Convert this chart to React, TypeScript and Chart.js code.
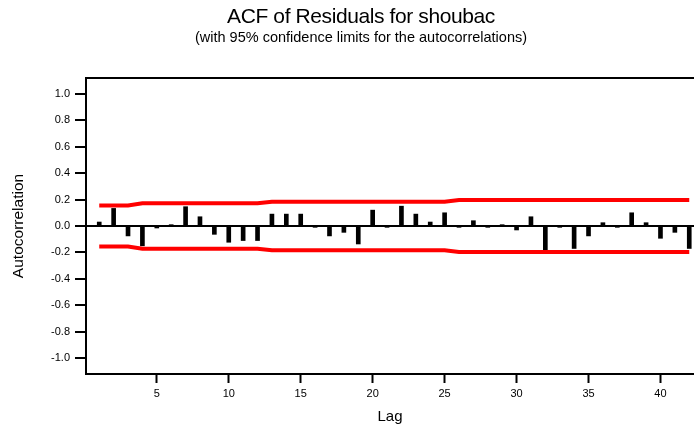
import React, { useEffect, useRef } from "react";
import { Chart, registerables } from "chart.js";

Chart.register(...registerables);

const TITLE = "ACF of Residuals for shoubac";
const SUBTITLE = "(with 95% confidence limits for the autocorrelations)";
const X_LABEL = "Lag";
const Y_LABEL = "Autocorrelation";

const lags = [
  1, 2, 3, 4, 5, 6, 7, 8, 9, 10, 11, 12, 13, 14, 15, 16, 17, 18, 19, 20, 21,
  22, 23, 24, 25, 26, 27, 28, 29, 30, 31, 32, 33, 34, 35, 36, 37, 38, 39, 40,
  41, 42,
];
const acf = [
  0.03, 0.133, -0.075, -0.15, -0.015, 0.01, 0.146, 0.07, -0.063, -0.123,
  -0.11, -0.11, 0.09, 0.09, 0.09, -0.01, -0.075, -0.048, -0.136, 0.12,
  -0.01, 0.15, 0.09, 0.03, 0.1, -0.01, 0.04, -0.01, 0.01, -0.03,
  0.07, -0.206, -0.01, -0.17, -0.075, 0.025, -0.01, 0.1, 0.025, -0.093,
  -0.048, -0.17,
];
const upperLimit = [
  0.155, 0.155, 0.155, 0.172, 0.172, 0.172, 0.172, 0.172, 0.172, 0.172,
  0.172, 0.172, 0.184, 0.184, 0.184, 0.184, 0.184, 0.184, 0.184, 0.184,
  0.184, 0.184, 0.184, 0.184, 0.184, 0.197, 0.197, 0.197, 0.197, 0.197,
  0.197, 0.197, 0.197, 0.197, 0.197, 0.197, 0.197, 0.197, 0.197, 0.197,
  0.197, 0.197,
];
const lowerLimit = [
  -0.155, -0.155, -0.155, -0.172, -0.172, -0.172, -0.172, -0.172, -0.172, -0.172,
  -0.172, -0.172, -0.184, -0.184, -0.184, -0.184, -0.184, -0.184, -0.184, -0.184,
  -0.184, -0.184, -0.184, -0.184, -0.184, -0.197, -0.197, -0.197, -0.197, -0.197,
  -0.197, -0.197, -0.197, -0.197, -0.197, -0.197, -0.197, -0.197, -0.197, -0.197,
  -0.197, -0.197,
];
const xTicks = [5, 10, 15, 20, 25, 30, 35, 40];
const yTicks = [-1.0, -0.8, -0.6, -0.4, -0.2, 0.0, 0.2, 0.4, 0.6, 0.8, 1.0];

const FONT = '"Liberation Sans", Arial, sans-serif';

const titlePlugin = {
  id: "centeredTitles",
  afterDraw(chart: any) {
    const { ctx } = chart;
    const cx = 361;
    ctx.save();
    ctx.fillStyle = "#000";
    ctx.textAlign = "center";
    ctx.textBaseline = "alphabetic";
    ctx.font = `21px ${FONT}`;
    try {
      ctx.letterSpacing = "-0.4px";
    } catch (e) {}
    ctx.fillText(TITLE, cx, 23);
    try {
      ctx.letterSpacing = "0px";
    } catch (e) {}
    ctx.font = `14.5px ${FONT}`;
    ctx.fillText(SUBTITLE, cx, 41.5);
    ctx.restore();
  },
};

export default function App() {
  const ref = useRef<HTMLCanvasElement>(null);
  useEffect(() => {
    if (!ref.current) return;
    const chart = new Chart(ref.current, {
      type: "bar",
      data: {
        datasets: [
          {
            type: "line",
            data: lags.map((x, i) => ({ x, y: upperLimit[i] })),
            borderColor: "#ff0000",
            borderWidth: 4,
            pointRadius: 0,
            tension: 0,
            order: 0,
          } as any,
          {
            type: "line",
            data: lags.map((x, i) => ({ x, y: lowerLimit[i] })),
            borderColor: "#ff0000",
            borderWidth: 4,
            pointRadius: 0,
            tension: 0,
            order: 0,
          } as any,
          {
            type: "bar",
            data: lags.map((x, i) => ({ x, y: acf[i] })),
            backgroundColor: "#000",
            barThickness: 4,
            order: 1,
          } as any,
        ],
      },
      options: {
        animation: false,
        responsive: false,
        layout: { padding: { top: 78, right: 0, left: 0, bottom: 0 } },
        plugins: {
          legend: { display: false },
          tooltip: { enabled: false },
          title: { display: false },
        },
        scales: {
          x: {
            type: "linear",
            position: "bottom",
            min: 0.08,
            max: 42.33,
            offset: false,
            afterFit: (s: any) => {
              s.height = 56;
            },
            afterBuildTicks: (s: any) => {
              s.ticks = xTicks.map((v) => ({ value: v }));
            },
            grid: {
              display: true,
              drawOnChartArea: false,
              offset: false,
              tickColor: "#000",
              tickLength: 9,
              tickWidth: 2,
            },
            border: { display: true, color: "#000", width: 2 },
            ticks: {
              color: "#000",
              font: { family: FONT, size: 11 },
              padding: 4,
              maxRotation: 0,
              autoSkip: false,
            },
            title: {
              display: true,
              text: X_LABEL,
              color: "#000",
              font: { family: FONT, size: 15 },
              padding: { top: 0, bottom: 4 },
            },
          },
          x2: {
            type: "linear",
            position: "top",
            min: 0,
            max: 1,
            afterFit: (s: any) => {
              s.height = 0;
            },
            grid: { display: false },
            ticks: { display: false },
            border: { display: true, color: "#000", width: 2 },
          },
          y: {
            type: "linear",
            min: -1.12,
            max: 1.12,
            afterFit: (s: any) => {
              s.width = 86;
            },
            afterBuildTicks: (s: any) => {
              s.ticks = yTicks.map((v) => ({ value: v }));
            },
            grid: {
              display: true,
              color: (c: any) =>
                c.tick && Math.abs(c.tick.value) < 1e-9 ? "#000" : "rgba(0,0,0,0)",
              lineWidth: 2,
              tickColor: "#000",
              tickLength: 11,
              tickWidth: 2,
            },
            border: { display: true, color: "#000", width: 2 },
            ticks: {
              color: "#000",
              font: { family: FONT, size: 11 },
              padding: 5,
              autoSkip: false,
              callback: (v: any) => Number(v).toFixed(1),
            },
            title: {
              display: true,
              text: Y_LABEL,
              color: "#000",
              font: { family: FONT, size: 15.5 },
              padding: { top: 9.5, bottom: 0 },
            },
          },
        },
      },
      plugins: [titlePlugin],
    } as any);
    return () => chart.destroy();
  }, []);
  return (
    <div style={{ position: "fixed", left: 0, top: 0, width: 694, height: 430 }}>
      <canvas ref={ref} width={694} height={430} />
    </div>
  );
}
